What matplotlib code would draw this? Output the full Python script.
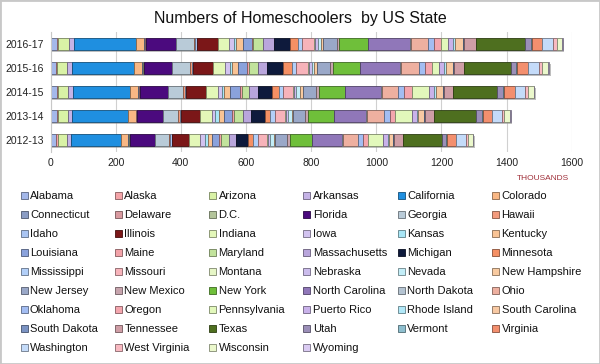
import matplotlib
matplotlib.use("Agg")
import matplotlib.pyplot as plt
from matplotlib.patches import Rectangle
from matplotlib.colors import to_rgb
import numpy as np

plt.rcParams["font.family"] = ["Liberation Sans", "DejaVu Sans"]

years = ["2016-17", "2015-16", "2014-15", "2013-14", "2012-13"]

states = [
    "Alabama", "Alaska", "Arizona", "Arkansas", "California", "Colorado",
    "Connecticut", "Delaware", "D.C.", "Florida", "Georgia", "Hawaii",
    "Idaho", "Illinois", "Indiana", "Iowa", "Kansas", "Kentucky",
    "Louisiana", "Maine", "Maryland", "Massachusetts", "Michigan", "Minnesota",
    "Mississippi", "Missouri", "Montana", "Nebraska", "Nevada", "New Hampshire",
    "New Jersey", "New Mexico", "New York", "North Carolina", "North Dakota", "Ohio",
    "Oklahoma", "Oregon", "Pennsylvania", "Puerto Rico", "Rhode Island", "South Carolina",
    "South Dakota", "Tennessee", "Texas", "Utah", "Vermont", "Virginia",
    "Washington", "West Virginia", "Wisconsin", "Wyoming",
]

# thousands of homeschoolers, one list per school year (same order as states)
y2016_17 = [19, 3, 35, 16, 190, 25, 2, 2, 2, 90, 55, 5, 5, 65, 34, 16, 6, 22,
            25, 6, 30, 33, 48, 26, 12, 36, 5, 8, 8, 8, 41, 8, 90, 126, 3, 55,
            18, 20, 21, 17, 5, 26, 3, 36, 150, 19, 3, 31, 34, 12, 15, 3]
y2015_16 = [18, 3, 31, 15, 190, 24, 2, 2, 2, 86, 55, 5, 5, 62, 37, 13, 7, 17,
            28, 6, 30, 28, 48, 26, 13, 36, 5, 8, 8, 8, 41, 8, 84, 123, 3, 55,
            17, 23, 20, 17, 5, 22, 3, 30, 143, 18, 3, 33, 34, 10, 18, 3]
y2014_15 = [19, 4, 31, 14, 177, 25, 2, 2, 2, 84, 47, 5, 5, 60, 36, 13, 8, 16,
            33, 6, 21, 26, 45, 21, 11, 31, 4, 6, 12, 9, 41, 9, 80, 108, 3, 52,
            18, 24, 52, 16, 5, 21, 3, 27, 137, 19, 3, 33, 31, 8, 18, 2]
y2013_14 = [19, 4, 30, 13, 172, 23, 2, 2, 2, 78, 46, 5, 6, 57, 37, 10, 10, 18,
            24, 6, 28, 24, 42, 16, 15, 31, 4, 6, 10, 5, 36, 10, 78, 100, 3, 53,
            18, 15, 51, 15, 5, 16, 3, 28, 131, 16, 3, 30, 29, 8, 17, 2]
y2012_13 = [18, 5, 27, 12, 155, 21, 2, 2, 2, 78, 41, 5, 5, 53, 33, 15, 8, 15,
            20, 5, 25, 21, 39, 16, 15, 26, 5, 6, 10, 5, 35, 10, 69, 90, 3, 48,
            14, 14, 47, 15, 4, 13, 3, 26, 120, 14, 3, 27, 30, 6, 16, 1]

colors = [
    "#a4b8ea", "#f4a4a8", "#d9f2a6", "#c5b3e6", "#1f8fe0", "#f9b784",
    "#8a9cc4", "#d99aa0", "#b3c49a", "#4b0a7e", "#b9cbd8", "#f29a7c",
    "#a9c4f2", "#7b1718", "#e3f7b8", "#d2c3f0", "#a8e6f6", "#f9c394",
    "#8aa2dc", "#f2a2a8", "#c2e39c", "#b9a6dc", "#0e1a3c", "#f59064",
    "#b2cff8", "#f7b3ba", "#e6f6c6", "#cbbcec", "#c3eef8", "#f8caa0",
    "#9aa8c8", "#c7a4ad", "#6fbf3a", "#9077b9", "#b5c4d2", "#eeb0a0",
    "#a3bdf2", "#f4a6ae", "#e2f8bb", "#c9b2ea", "#b1e8f8", "#f8c9a3",
    "#7b93c3", "#cf9ea6", "#4e6f1f", "#9b8fb8", "#8ebfcf", "#f38f6e",
    "#c4dbf9", "#f8b9c1", "#ebf8cc", "#dacbf2",
]

data = np.array([y2016_17, y2015_16, y2014_15, y2013_14, y2012_13], dtype=float)

W, H = 600, 364
fig = plt.figure(figsize=(W / 100, H / 100), dpi=100)
ax = fig.add_axes([50.5 / W, 1 - 152 / H, (571.8 - 50.5) / W, 120 / H])

ypos = np.arange(len(years))
bar_h = 0.5

# drop shadow
totals = data.sum(axis=1)
ax.barh(ypos + 0.09, totals, left=4, height=bar_h, color="#8a8a8a", alpha=0.55, zorder=1)

left = np.zeros(len(years))
for i, st in enumerate(states):
    edge = tuple(c * 0.55 for c in to_rgb(colors[i]))
    ax.barh(ypos, data[:, i], left=left, height=bar_h, color=colors[i],
            edgecolor=edge, linewidth=0.6, zorder=2)
    left += data[:, i]

ax.set_xlim(0, 1600)
ax.set_ylim(4.5, -0.5)
ax.set_xticks(np.arange(0, 1601, 200))
ax.set_yticks(ypos)
ax.set_yticklabels(years)
ax.tick_params(axis="both", length=0, labelsize=7.5, colors="#222222")
ax.tick_params(axis="x", pad=4)
ax.tick_params(axis="y", pad=5)
ax.grid(axis="x", color="#d0d0d0", linewidth=0.8, zorder=0)
ax.set_axisbelow(True)
for s in ["top", "right", "bottom"]:
    ax.spines[s].set_visible(False)
ax.spines["left"].set_color("#c8c8c8")

fig.text(300 / W, 1 - 18 / H, "Numbers of Homeschoolers  by US State",
         ha="center", va="center", fontsize=11.5, color="#111111")
fig.text(543 / W, 1 - 178 / H, "THOUSANDS", ha="center", va="center",
         fontsize=6, color="#a0303a")

# legend, laid out as 6 columns
for i, st in enumerate(states):
    row, col = divmod(i, 6)
    mx = 24 + col * 94.3
    my = 195.7 + row * 19.0
    edge = tuple(c * 0.55 for c in to_rgb(colors[i]))
    fig.add_artist(Rectangle(((mx - 3.5) / W, 1 - (my + 3.5) / H), 7 / W, 7 / H,
                             facecolor=colors[i], edgecolor=edge, linewidth=0.6,
                             transform=fig.transFigure))
    fig.text((mx + 6) / W, 1 - my / H, st, ha="left", va="center",
             fontsize=8, color="#111111")

fig.add_artist(Rectangle((0, 0), 1, 1, fill=False, edgecolor="#c8c8c8",
                         linewidth=2, transform=fig.transFigure))

fig.savefig("out.png", dpi=100)
